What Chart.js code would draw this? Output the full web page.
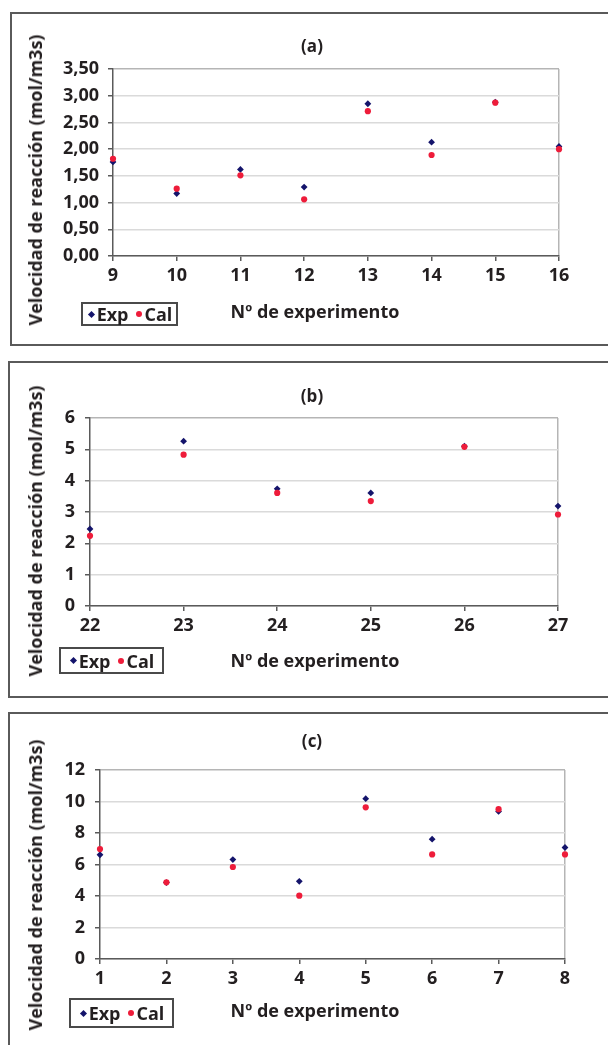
<!DOCTYPE html>
<html>
<head>
<meta charset="utf-8">
<script src="https://cdn.jsdelivr.net/npm/chart.js@4/dist/chart.umd.min.js"></script>
<style>
  html,body{margin:0;padding:0;background:#fff;}
  body{width:608px;height:1045px;overflow:hidden;position:relative;font-family:"Open Sans",sans-serif;font-weight:700;color:#231f20;}
  .panel{position:absolute;border:2px solid #5a5a5a;box-sizing:border-box;}
  canvas{position:absolute;}
  .t{position:absolute;white-space:nowrap;transform:translate(-50%,-50%);line-height:1;}
  .yt{transform:translate(-50%,-50%) rotate(-90deg);}
  .legend{position:absolute;border:2px solid #4a4a4a;box-sizing:border-box;display:flex;align-items:center;justify-content:center;font-size:18px;line-height:1;}
  .mk{display:inline-block;margin:0 3px 0 2px;}
  .mk.exp{width:5px;height:5px;background:#14146b;transform:rotate(45deg);}
  .mk.cal{width:6px;height:6px;border-radius:50%;background:#ee1c3a;margin-left:7px;}
</style>
</head>
<body>
<script>
// ---------- DATA ----------
const panelTitles = ['(a)', '(b)', '(c)'];
const seriesNames = ['Exp', 'Cal'];
const yAxisTitle = 'Velocidad de reacción (mol/m3s)';
const xAxisTitle = 'Nº de experimento';

const experimentsA = [9, 10, 11, 12, 13, 14, 15, 16];
const expA = [1.76, 1.17, 1.62, 1.29, 2.85, 2.13, 2.88, 2.05];
const calA = [1.82, 1.26, 1.51, 1.06, 2.71, 1.89, 2.87, 2.00];
const yTicksA = ['0,00', '0,50', '1,00', '1,50', '2,00', '2,50', '3,00', '3,50'];

const experimentsB = [22, 23, 24, 25, 26, 27];
const expB = [2.46, 5.26, 3.74, 3.61, 5.10, 3.19];
const calB = [2.24, 4.83, 3.61, 3.35, 5.08, 2.92];
const yTicksB = ['0', '1', '2', '3', '4', '5', '6'];

const experimentsC = [1, 2, 3, 4, 5, 6, 7, 8];
const expC = [6.62, 4.85, 6.31, 4.93, 10.18, 7.61, 9.37, 7.08];
const calC = [6.98, 4.87, 5.84, 4.02, 9.63, 6.64, 9.51, 6.64];
const yTicksC = ['0', '2', '4', '6', '8', '10', '12'];

// ---------- LAYOUT ----------
const layouts = [
  { box:{l:10,t:12,w:620,h:334}, canvas:{l:10,t:13,w:598,h:332}, plot:{l:113,r:559,t:69,b:256}, ypad:9,
    title:[312,45], ytitle:[35,180], xtitle:[315,311], legend:{l:81,t:302,w:97,h:24} },
  { box:{l:8,t:361,w:620,h:337}, canvas:{l:8,t:362,w:600,h:335}, plot:{l:90,r:558,t:418,b:606}, ypad:10,
    title:[312,395], ytitle:[35,531], xtitle:[315,660], legend:{l:59,t:647,w:105,h:27} },
  { box:{l:8,t:712,w:620,h:360}, canvas:{l:8,t:713,w:600,h:332}, plot:{l:100,r:565,t:770,b:959}, ypad:10,
    title:[312,740], ytitle:[35,885], xtitle:[315,1010], legend:{l:69,t:998,w:105,h:30} }
];
const datasetsAll = [
  [experimentsA, expA, calA, yTicksA],
  [experimentsB, expB, calB, yTicksB],
  [experimentsC, expC, calC, yTicksC]
];

const TXT = '#231f20';
const FONT = {family:'"Open Sans", sans-serif', weight:'700', size:18};
const Y_W = 50, X_H = 40;

function el(tag, cls, style, text){
  const e = document.createElement(tag);
  if (cls) e.className = cls;
  Object.assign(e.style, style || {});
  if (text != null) e.textContent = text;
  document.body.appendChild(e);
  return e;
}

layouts.forEach((L, i) => {
  const [xs, ex, ca, yt] = datasetsAll[i];
  el('div', 'panel', {left:L.box.l+'px', top:L.box.t+'px', width:L.box.w+'px', height:L.box.h+'px'});
  const cv = el('canvas', null, {left:L.canvas.l+'px', top:L.canvas.t+'px'});
  cv.width = L.canvas.w; cv.height = L.canvas.h;
  cv.style.width = L.canvas.w+'px'; cv.style.height = L.canvas.h+'px';

  el('div', 't', {left:L.title[0]+'px', top:L.title[1]+'px', fontSize:'17px'}, panelTitles[i]);
  el('div', 't yt', {left:L.ytitle[0]+'px', top:L.ytitle[1]+'px', fontSize:'18px'}, yAxisTitle);
  el('div', 't', {left:L.xtitle[0]+'px', top:L.xtitle[1]+'px', fontSize:'18px'}, xAxisTitle);
  const lg = el('div', 'legend', {left:L.legend.l+'px', top:L.legend.t+'px', width:L.legend.w+'px', height:L.legend.h+'px'});
  seriesNames.forEach((n, k) => {
    const m = document.createElement('span'); m.className = 'mk ' + (k === 0 ? 'exp' : 'cal'); lg.appendChild(m);
    const s = document.createElement('span'); s.textContent = n; lg.appendChild(s);
  });

  const yVals = yt.map(s => parseFloat(s.replace(',', '.')));
  const yMax = yVals[yVals.length - 1];
  const yStep = yVals[1] - yVals[0];
  const xMin = xs[0], xMax = xs[xs.length - 1];

  const pad = {
    left: L.plot.l - L.canvas.l - Y_W,
    right: (L.canvas.l + L.canvas.w) - L.plot.r,
    top: L.plot.t - L.canvas.t,
    bottom: (L.canvas.t + L.canvas.h) - L.plot.b - X_H
  };

  new Chart(cv, {
    type: 'scatter',
    data: {
      datasets: [
        { label: seriesNames[0], data: xs.map((x, j) => ({x, y: ex[j]})), order: 1,
          pointStyle: 'rectRot', pointRadius: 3.4, backgroundColor: '#14146b', borderColor: '#14146b', borderWidth: 0, clip: false },
        { label: seriesNames[1], data: xs.map((x, j) => ({x, y: ca[j]})), order: 0,
          pointStyle: 'circle', pointRadius: 3.1, backgroundColor: '#ee1c3a', borderColor: '#ee1c3a', borderWidth: 0, clip: false }
      ]
    },
    options: {
      responsive: false, animation: false, devicePixelRatio: 1,
      layout: { padding: pad },
      plugins: { legend: {display: false}, tooltip: {enabled: false}, title: {display: false} },
      scales: {
        x: {
          type: 'linear', min: xMin, max: xMax,
          afterFit: s => { s.height = X_H; },
          ticks: { stepSize: 1, color: TXT, font: FONT, padding: 4, maxRotation: 0 },
          grid: { color: c => (c.tick && c.tick.value === xMax) ? '#b5b5b5' : 'rgba(0,0,0,0)', lineWidth: 1.5,
                  tickColor: '#5a5a5a', tickLength: 5, drawTicks: true },
          border: { display: true, color: '#5a5a5a', width: 1.5 }
        },
        y: {
          min: 0, max: yMax,
          afterFit: s => { s.width = Y_W; },
          ticks: { stepSize: yStep, color: TXT, font: FONT, padding: L.ypad,
                   callback: (v) => { const k = yVals.findIndex(q => Math.abs(q - v) < 1e-6); return k >= 0 ? yt[k] : ''; } },
          grid: { color: c => (c.tick && Math.abs(c.tick.value - yMax) < 1e-6) ? '#b5b5b5' : '#dadada', lineWidth: 1.5,
                  tickColor: '#5a5a5a', tickLength: 5, drawTicks: true },
          border: { display: true, color: '#5a5a5a', width: 1.5 }
        }
      }
    }
  });
});
</script>
</body>
</html>
